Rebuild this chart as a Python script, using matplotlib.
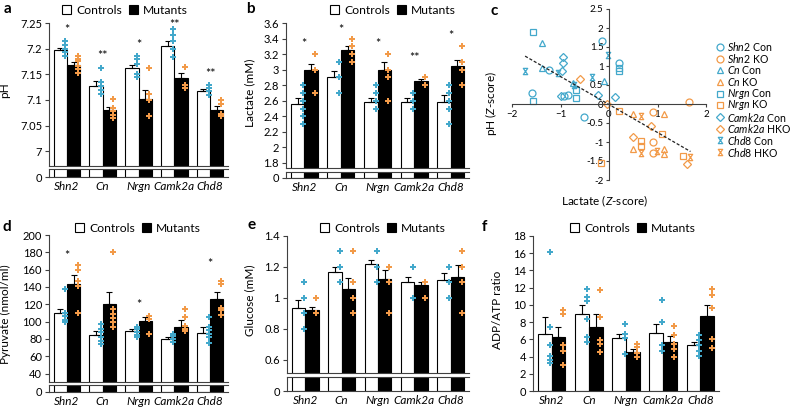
import numpy as np
import matplotlib.pyplot as plt
from matplotlib.patches import Patch
from matplotlib.path import Path

plt.rcParams['font.family'] = ['Lato', 'DejaVu Sans']
plt.rcParams['mathtext.fontset'] = 'custom'
plt.rcParams['mathtext.it'] = 'Lato:italic'
plt.rcParams['mathtext.rm'] = 'Lato'

W, H = 799, 407
BLUE = '#43A8CB'
ORANGE = '#F29A48'
SPINE = '#404040'
BW = 0.37

genes = ["Shn2", "Cn", "Nrgn", "Camk2a", "Chd8"]

# a - pH
ph_ctrl = [7.197, 7.128, 7.162, 7.205, 7.118]
ph_ctrl_err = [0.005, 0.009, 0.007, 0.010, 0.003]
ph_mut = [7.168, 7.081, 7.101, 7.142, 7.080]
ph_mut_err = [0.005, 0.006, 0.018, 0.010, 0.008]
ph_ctrl_pts = [[7.215, 7.207, 7.200, 7.193, 7.185],
               [7.163, 7.135, 7.127, 7.120, 7.112],
               [7.185, 7.180, 7.170, 7.150, 7.145],
               [7.239, 7.227, 7.215, 7.200, 7.183],
               [7.130, 7.123, 7.117, 7.110]]
ph_mut_pts = [[7.185, 7.180, 7.175, 7.167, 7.160, 7.153],
              [7.102, 7.085, 7.078, 7.070, 7.065],
              [7.162, 7.111, 7.099, 7.068],
              [7.165, 7.130, 7.123],
              [7.100, 7.092, 7.073, 7.069]]
ph_stars = ["*", "**", "*", "**", "**"]
ph_star_y = [7.237, 7.185, 7.207, 7.247, 7.151]

# b - lactate
lac_ctrl = [2.56, 2.91, 2.59, 2.59, 2.59]
lac_ctrl_err = [0.07, 0.07, 0.05, 0.04, 0.08]
lac_mut = [2.99, 3.25, 2.99, 2.86, 3.05]
lac_mut_err = [0.08, 0.05, 0.11, 0.02, 0.07]
lac_ctrl_pts = [[2.8, 2.7, 2.6, 2.5, 2.4, 2.3],
                [3.1, 2.9, 2.7],
                [2.8, 2.7, 2.6, 2.5],
                [2.7, 2.6, 2.5],
                [2.8, 2.7, 2.6, 2.5, 2.3]]
lac_mut_pts = [[3.2, 3.0, 2.7],
               [3.4, 3.3, 3.2, 3.1],
               [3.2, 3.0, 2.9, 2.6],
               [2.9, 2.8],
               [3.3, 3.1, 3.0, 2.8]]
lac_stars = ["*", "*", "*", "**", "*"]
lac_star_y = [3.33, 3.51, 3.33, 3.15, 3.43]

# c - z-score scatter
shn2_con_x = [-1.59, -1.23, -0.93, -0.85, -0.52, -0.14, 0.20]
shn2_con_y = [0.30, 0.90, 0.20, 0.24, -0.33, 1.65, 1.07]
shn2_ko_x = [0.90, 1.64, 0.90, 0.90]
shn2_ko_y = [-0.20, 0.05, -0.99, -1.28]
cn_con_x = [-1.38, -1.38, -0.75, -0.11]
cn_con_y = [1.61, 0.96, 0.54, 0.61]
cn_ko_x = [0.49, 1.13, 0.50, 1.14, 1.14]
cn_ko_y = [-0.26, -0.25, -1.19, -1.19, -1.32]
nrgn_con_x = [-1.57, -1.57, -0.68, -0.68, 0.20, 0.20]
nrgn_con_y = [1.89, 0.09, 0.37, 0.15, 0.96, 0.88]
nrgn_ko_x = [0.21, 1.09, 0.65, 0.65, 1.52, -0.16]
nrgn_ko_y = [-0.18, -0.80, -0.97, -1.10, -1.36, -1.55]
camk_con_x = [-0.95, -0.95, -0.97, -1.00, -0.22, 0.13]
camk_con_y = [1.23, 1.07, 0.87, 0.21, 0.25, 0.19]
camk_hko_x = [-0.59, -0.04, 0.87, 0.49, 1.61]
camk_hko_y = [0.66, 0.00, -0.58, -0.86, -1.58]
chd8_con_x = [-1.73, -1.06, -0.72, -0.36, -0.03]
chd8_con_y = [0.88, 0.82, 0.50, 0.70, 1.29]
chd8_hko_x = [0.65, 0.65, 0.98, 1.66]
chd8_hko_y = [-0.32, -1.30, -1.24, -1.40]
fit_x = [-1.73, 1.68]
fit_y = [1.26, -1.25]

# d - pyruvate
pyr_ctrl = [110, 85, 88.6, 80.5, 87]
pyr_ctrl_err = [5, 3.6, 2.4, 2, 6.6]
pyr_mut = [144, 120, 101, 94, 125.6]
pyr_mut_err = [9.8, 14.5, 4.6, 7.7, 8.1]
pyr_ctrl_pts = [[138, 110, 106, 102, 100],
                [97, 92, 88, 82, 78, 74],
                [94, 91, 88, 85, 82],
                [86, 83, 80, 77],
                [105, 94, 90, 86, 82, 75]]
pyr_mut_pts = [[165, 160, 147, 141, 110],
               [180, 114, 109, 104, 99, 94],
               [107, 103, 86],
               [114, 105, 95, 92, 89],
               [147, 144, 116, 113, 108]]
pyr_stars = ["*", "", "*", "", "*"]
pyr_star_y = [176, 0, 119, 0, 167]

# e - glucose
glu_ctrl = [0.935, 1.165, 1.22, 1.10, 1.115]
glu_ctrl_err = [0.05, 0.035, 0.025, 0.035, 0.045]
glu_mut = [0.92, 1.06, 1.12, 1.08, 1.135]
glu_mut_err = [0.02, 0.065, 0.06, 0.02, 0.075]
glu_ctrl_pts = [[1.1, 1.0, 0.9, 0.8],
                [1.3, 1.2, 1.1],
                [1.3, 1.2, 1.1],
                [1.2, 1.0],
                [1.2, 1.1, 1.0]]
glu_mut_pts = [[1.0, 0.9],
               [1.3, 1.1, 1.0, 0.9],
               [1.2, 1.1, 0.9],
               [1.1, 1.0],
               [1.3, 1.2, 1.1, 0.9]]

# f - ADP/ATP
adp_ctrl = [6.6, 8.9, 6.1, 6.7, 5.3]
adp_ctrl_err = [2.0, 1.1, 0.5, 1.1, 0.4]
adp_mut = [6.3, 7.4, 4.5, 5.7, 8.7]
adp_mut_err = [1.1, 1.5, 0.4, 0.7, 1.3]
adp_ctrl_pts = [[16.1, 7.4, 5.4, 4.1, 3.6, 3.2],
                [11.8, 10.9, 10.5, 8.4, 6.3, 5.7],
                [7.8, 6.6, 6.1, 4.3],
                [10.6, 8.0, 5.3, 4.7],
                [6.5, 5.9, 5.3, 4.7, 4.1]]
adp_mut_pts = [[9.4, 8.9, 5.3, 4.7, 3.0],
               [11.7, 8.6, 5.9, 5.5, 4.5],
               [5.5, 5.1, 4.4, 4.0],
               [7.6, 6.5, 5.5, 4.9, 4.0],
               [11.8, 11.1, 9.6, 6.0, 5.0]]


def px_rect(x0, y0, x1, y1):
    return [x0 / W, 1 - y1 / H, (x1 - x0) / W, (y1 - y0) / H]


def style(ax, spines):
    for s in ['top', 'right', 'bottom', 'left']:
        ax.spines[s].set_visible(s in spines)
        ax.spines[s].set_color(SPINE)
        ax.spines[s].set_linewidth(0.8)
    ax.tick_params(axis='y', length=3, width=0.8, color=SPINE, labelsize=8, pad=2)
    ax.tick_params(axis='x', length=0, labelsize=8.5)


def draw_bars(ax, ctrl, mut):
    x = np.arange(len(genes))
    ax.bar(x - BW / 2, ctrl, BW, color='white', edgecolor='black', linewidth=0.8)
    ax.bar(x + BW / 2, mut, BW, color='black', edgecolor='black', linewidth=0.8)
    ax.set_xlim(-0.5, 4.5)


def bar_panel(xs, ys, ylim, yticks, ylabel, label_xy, ctrl, ctrl_err, mut, mut_err,
              ctrl_pts, mut_pts, legend_xy, stars=None, star_y=None):
    x = np.arange(len(genes))
    broken = len(ys) == 4
    if broken:
        ax = fig.add_axes(px_rect(xs[0], ys[0], xs[1], ys[1]))
        low = fig.add_axes(px_rect(xs[0], ys[2], xs[1], ys[3]))
        style(ax, ['left', 'bottom'])
        style(low, ['left', 'bottom', 'top'])
        draw_bars(low, ctrl, mut)
        low.set_ylim(0, 1e-3)
        low.set_yticks([0])
        low.set_yticklabels(['0'])
        ax.set_xticks([])
        bottom = low
    else:
        ax = fig.add_axes(px_rect(xs[0], ys[0], xs[1], ys[1]))
        style(ax, ['left', 'bottom'])
        bottom = ax
    draw_bars(ax, ctrl, mut)
    ax.set_ylim(*ylim)
    ax.set_yticks(yticks)
    ax.set_yticklabels(['{:g}'.format(t) for t in yticks])
    ax.errorbar(x - BW / 2, ctrl, yerr=[np.zeros(len(ctrl)), ctrl_err], fmt='none',
                ecolor='black', elinewidth=0.8, capsize=2.3, capthick=0.8)
    ax.errorbar(x + BW / 2, mut, yerr=[np.zeros(len(mut)), mut_err], fmt='none',
                ecolor='black', elinewidth=0.8, capsize=2.3, capthick=0.8)
    for i in range(len(genes)):
        ax.plot(np.full(len(ctrl_pts[i]), x[i] - 0.04), ctrl_pts[i], 'P',
                color=BLUE, ms=4.4, mew=0, clip_on=False, zorder=5)
        ax.plot(np.full(len(mut_pts[i]), x[i] + 0.30), mut_pts[i], 'P',
                color=ORANGE, ms=4.4, mew=0, clip_on=False, zorder=5)
    if stars is not None:
        for i, s in enumerate(stars):
            if s:
                ax.text(x[i], star_y[i], s, ha='center', va='center',
                        fontsize=9, clip_on=False)
    bottom.set_xticks(x)
    bottom.set_xticklabels(genes, fontstyle='italic', fontsize=8.5)
    bottom.tick_params(axis='x', pad=3)
    ax.set_ylabel(ylabel, fontsize=8.5)
    ax.yaxis.set_label_coords(label_xy[0] / W, 1 - label_xy[1] / H,
                              transform=fig.transFigure)
    handles = [Patch(facecolor='white', edgecolor='black', linewidth=0.8),
               Patch(facecolor='black', edgecolor='black', linewidth=0.8)]
    ax.legend(handles, ['Controls', 'Mutants'], ncol=2, frameon=False,
              loc='center', bbox_to_anchor=(legend_xy[0] / W, 1 - legend_xy[1] / H),
              bbox_transform=fig.transFigure, fontsize=8.7, handlelength=0.75,
              handleheight=0.75, handletextpad=0.4, columnspacing=0.6,
              borderpad=0, borderaxespad=0)
    return ax


fig = plt.figure(figsize=(W / 100, H / 100), dpi=100)

bar_panel((49, 228), (23, 166, 169, 177), (6.971, 7.25),
          [7, 7.05, 7.1, 7.15, 7.2, 7.25], 'pH', (10, 90),
          ph_ctrl, ph_ctrl_err, ph_mut, ph_mut_err, ph_ctrl_pts, ph_mut_pts,
          (125, 10), ph_stars, ph_star_y)
bar_panel((286, 469), (23, 168, 172, 178), (1.735, 3.6),
          [1.8, 2, 2.2, 2.4, 2.6, 2.8, 3, 3.2, 3.4, 3.6], 'Lactate (mM)', (255, 93),
          lac_ctrl, lac_ctrl_err, lac_mut, lac_mut_err, lac_ctrl_pts, lac_mut_pts,
          (393, 10), lac_stars, lac_star_y)
bar_panel((49, 228), (235, 382, 385, 392), (30.3, 200),
          [40, 60, 80, 100, 120, 140, 160, 180, 200], 'Pyruvate (nmol/ml)', (11, 314),
          pyr_ctrl, pyr_ctrl_err, pyr_mut, pyr_mut_err, pyr_ctrl_pts, pyr_mut_pts,
          (138, 228), pyr_stars, pyr_star_y)
bar_panel((287, 469), (236, 373, 377, 391), (0.513, 1.4),
          [0.6, 0.8, 1, 1.2, 1.4], 'Glucose (mM)', (255, 300),
          glu_ctrl, glu_ctrl_err, glu_mut, glu_mut_err, glu_ctrl_pts, glu_mut_pts,
          (383, 228))
bar_panel((533, 719), (236, 391), (0, 18),
          [0, 2, 4, 6, 8, 10, 12, 14, 16, 18], 'ADP/ATP ratio', (503, 310),
          adp_ctrl, adp_ctrl_err, adp_mut, adp_mut_err, adp_ctrl_pts, adp_mut_pts,
          (633, 228))

# panel c
axc = fig.add_axes(px_rect(512, 9, 706, 180))
axc.set_xlim(-2, 2)
axc.set_ylim(-2, 2.5)
for s in ['top', 'right']:
    axc.spines[s].set_visible(False)
for s in ['left', 'bottom']:
    axc.spines[s].set_position('zero')
    axc.spines[s].set_color(SPINE)
    axc.spines[s].set_linewidth(0.8)
axc.set_xticks([-2, -1, 0, 1, 2])
axc.set_yticks([-2, -1.5, -1, -0.5, 0, 0.5, 1, 1.5, 2, 2.5])
axc.set_yticklabels(['{:g}'.format(t) for t in axc.get_yticks()])
axc.tick_params(length=2.5, width=0.8, color=SPINE, labelsize=7, pad=1.5)

xmark = Path([(-0.7, 1), (0.7, 1), (-0.7, -1), (0.7, -1), (-0.7, 1)],
             [Path.MOVETO, Path.LINETO, Path.LINETO, Path.LINETO, Path.CLOSEPOLY])
groups = [
    (shn2_con_x, shn2_con_y, 'o', BLUE, r'$\it{Shn2}$ Con', 5),
    (shn2_ko_x, shn2_ko_y, 'o', ORANGE, r'$\it{Shn2}$ KO', 5),
    (cn_con_x, cn_con_y, '^', BLUE, r'$\it{Cn}$ Con', 5),
    (cn_ko_x, cn_ko_y, '^', ORANGE, r'$\it{Cn}$ KO', 5),
    (nrgn_con_x, nrgn_con_y, 's', BLUE, r'$\it{Nrgn}$ Con', 5),
    (nrgn_ko_x, nrgn_ko_y, 's', ORANGE, r'$\it{Nrgn}$ KO', 5),
    (camk_con_x, camk_con_y, 'D', BLUE, r'$\it{Camk2a}$ Con', 3.6),
    (camk_hko_x, camk_hko_y, 'D', ORANGE, r'$\it{Camk2a}$ HKO', 3.6),
    (chd8_con_x, chd8_con_y, xmark, BLUE, r'$\it{Chd8}$ Con', 4.5),
    (chd8_hko_x, chd8_hko_y, xmark, ORANGE, r'$\it{Chd8}$ HKO', 4.5),
]
for gx, gy, m, c, lab, ms in groups:
    axc.plot(gx, gy, linestyle='none', marker=m, ms=ms, mfc='none', mec=c,
             mew=0.9, clip_on=False)
axc.plot(fit_x, fit_y, linestyle=(0, (2.5, 1.5)), color='#222222', lw=0.9)
axc.set_ylabel('pH ($\\it{Z}$-score)', fontsize=8.5)
axc.yaxis.set_label_coords(499 / W, 1 - 103 / H, transform=fig.transFigure)
axc.set_xlabel('Lactate ($\\it{Z}$-score)', fontsize=8.5)
axc.xaxis.set_label_coords(605 / W, 1 - 194 / H, transform=fig.transFigure)

# legend for c, one row per group
lax = fig.add_axes(px_rect(714, 41, 799, 158))
lax.set_xlim(0, 1)
lax.set_ylim(len(groups) - 0.5, -0.5)
lax.axis('off')
for i, (gx, gy, m, c, lab, ms) in enumerate(groups):
    lax.plot([0.07], [i], linestyle='none', marker=m, ms=ms, mfc='none', mec=c,
             mew=0.9, clip_on=False)
    lax.text(0.155, i, lab, fontsize=7.6, va='center', ha='left')

# panel letters
for lab, px, py in [('a', 7, 9), ('b', 250, 9), ('c', 494, 11),
                    ('d', 7, 227), ('e', 252, 225), ('f', 484, 227)]:
    fig.text(px / W, 1 - py / H, lab, fontsize=11, fontweight='bold',
             ha='center', va='center')

fig.savefig('out.png', dpi=100)
